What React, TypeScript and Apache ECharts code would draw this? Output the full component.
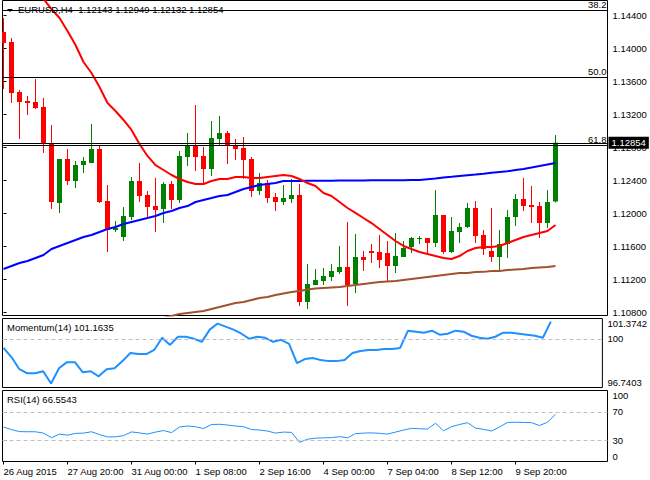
import React, { useEffect, useRef } from 'react';
import * as echarts from 'echarts';

// ---- chart values (EURUSD H4) ----
const symbolName = 'EURUSD,H4';

const openP = [
  1.14198, 1.14076, 1.13470, 1.13361, 1.13349, 1.13288, 1.12852, 1.12125, 1.12658, 1.12392,
  1.12585, 1.12610, 1.12779, 1.12149, 1.11798, 1.11713, 1.11955, 1.12392, 1.12222, 1.12088,
  1.12052, 1.12355, 1.12161, 1.12682, 1.12828, 1.12695, 1.12537, 1.12901, 1.12973, 1.12828,
  1.12792, 1.12658, 1.12270, 1.12367, 1.12198, 1.12137, 1.12173, 1.12222, 1.10925, 1.11131,
  1.11179, 1.11228, 1.11289, 1.11349, 1.11143, 1.11470, 1.11543, 1.11531, 1.11519, 1.11361,
  1.11470, 1.11592, 1.11689, 1.11701, 1.11640, 1.11979, 1.11531, 1.11773, 1.11834, 1.12064,
  1.11737, 1.11543, 1.11470, 1.11628, 1.11955, 1.12173, 1.12101, 1.12088, 1.11882, 1.12143,
];
const closeP = [
  1.14064, 1.13458, 1.13349, 1.13337, 1.13276, 1.12852, 1.12137, 1.12658, 1.12392, 1.12585,
  1.12634, 1.12779, 1.12137, 1.11798, 1.11822, 1.11967, 1.12392, 1.12210, 1.12076, 1.12040,
  1.12355, 1.12161, 1.12695, 1.12828, 1.12682, 1.12537, 1.12913, 1.12973, 1.12828, 1.12779,
  1.12646, 1.12270, 1.12367, 1.12185, 1.12137, 1.12185, 1.12222, 1.10925, 1.11143, 1.11192,
  1.11240, 1.11301, 1.11349, 1.11131, 1.11470, 1.11434, 1.11519, 1.11434, 1.11361, 1.11482,
  1.11579, 1.11701, 1.11701, 1.11640, 1.11979, 1.11531, 1.11785, 1.11834, 1.12064, 1.11725,
  1.11567, 1.11470, 1.11628, 1.11955, 1.12173, 1.12088, 1.12076, 1.11882, 1.12137, 1.12854,
];
const lowP = [
  1.13507, 1.13337, 1.12901, 1.13192, 1.13264, 1.12731, 1.12052, 1.12004, 1.12343, 1.12307,
  1.12488, 1.12610, 1.12125, 1.11531, 1.11773, 1.11664, 1.11919, 1.12137, 1.11943, 1.11773,
  1.11882, 1.12052, 1.12125, 1.12573, 1.12513, 1.12367, 1.12452, 1.12828, 1.12598, 1.12646,
  1.12416, 1.12198, 1.12222, 1.12125, 1.12028, 1.12101, 1.12125, 1.10876, 1.10840, 1.11131,
  1.11131, 1.11179, 1.11264, 1.10876, 1.11034, 1.11301, 1.11398, 1.11337, 1.11179, 1.11276,
  1.11470, 1.11519, 1.11628, 1.11519, 1.11592, 1.11507, 1.11519, 1.11640, 1.11822, 1.11640,
  1.11495, 1.11410, 1.11313, 1.11458, 1.11846, 1.12028, 1.11882, 1.11701, 1.11822, 1.12132,
];
const highP = [
  1.14367, 1.14125, 1.13495, 1.13422, 1.13628, 1.13398, 1.13070, 1.12658, 1.12779, 1.12634,
  1.12682, 1.13082, 1.12816, 1.12343, 1.11907, 1.12076, 1.12440, 1.12610, 1.12270, 1.12428,
  1.12379, 1.12392, 1.12755, 1.12973, 1.13313, 1.12804, 1.13119, 1.13179, 1.12998, 1.12901,
  1.12925, 1.12682, 1.12488, 1.12404, 1.12246, 1.12343, 1.12416, 1.12355, 1.11385, 1.11325,
  1.11337, 1.11385, 1.11604, 1.11895, 1.11749, 1.11543, 1.11628, 1.11737, 1.11664, 1.11761,
  1.11664, 1.11713, 1.11725, 1.11701, 1.12282, 1.11979, 1.11955, 1.11882, 1.12125, 1.12149,
  1.11798, 1.12064, 1.11798, 1.12040, 1.12234, 1.12428, 1.12331, 1.12137, 1.12282, 1.12949,
];

const maRed = [
  1.15313, 1.15167, 1.15022, 1.14876, 1.14731, 1.14598, 1.14476, 1.14367, 1.14210, 1.14040,
  1.13834, 1.13701, 1.13531, 1.13337, 1.13240, 1.13131, 1.13010, 1.12840, 1.12695, 1.12585,
  1.12525, 1.12464, 1.12416, 1.12379, 1.12355, 1.12355, 1.12392, 1.12416, 1.12416, 1.12440,
  1.12440, 1.12428, 1.12428, 1.12440, 1.12452, 1.12464, 1.12452, 1.12416, 1.12367, 1.12331,
  1.12246, 1.12210, 1.12137, 1.12064, 1.12004, 1.11943, 1.11882, 1.11810, 1.11737, 1.11664,
  1.11604, 1.11567, 1.11531, 1.11507, 1.11482, 1.11458, 1.11446, 1.11482, 1.11543, 1.11579,
  1.11592, 1.11592, 1.11604, 1.11640, 1.11676, 1.11713, 1.11737, 1.11761, 1.11785, 1.11858,
];
const maBlue = [
  1.11325, 1.11361, 1.11398, 1.11422, 1.11458, 1.11495, 1.11567, 1.11604, 1.11640, 1.11676,
  1.11713, 1.11737, 1.11773, 1.11810, 1.11834, 1.11870, 1.11895, 1.11919, 1.11943, 1.11967,
  1.12004, 1.12028, 1.12064, 1.12088, 1.12137, 1.12161, 1.12185, 1.12210, 1.12222, 1.12258,
  1.12295, 1.12319, 1.12343, 1.12355, 1.12367, 1.12392, 1.12392, 1.12393, 1.12394, 1.12395,
  1.12396, 1.12396, 1.12397, 1.12398, 1.12398, 1.12399, 1.12400, 1.12400, 1.12401, 1.12402,
  1.12402, 1.12403, 1.12404, 1.12414, 1.12422, 1.12433, 1.12442, 1.12452, 1.12461, 1.12470,
  1.12480, 1.12491, 1.12501, 1.12510, 1.12525, 1.12538, 1.12555, 1.12573, 1.12592, 1.12610,
];
const maBrown = [
  null, null, null, null, null, null, null, null, null, null,
  null, null, null, null, null, null, null, null, 1.10682, 1.10707,
  1.10731, 1.10755, 1.10779, 1.10792, 1.10804, 1.10816, 1.10840, 1.10864, 1.10889, 1.10913,
  1.10925, 1.10949, 1.10973, 1.10985, 1.11010, 1.11028, 1.11046, 1.11058, 1.11076, 1.11089,
  1.11095, 1.11101, 1.11107, 1.11119, 1.11131, 1.11143, 1.11155, 1.11167, 1.11173, 1.11179,
  1.11192, 1.11204, 1.11216, 1.11228, 1.11240, 1.11252, 1.11264, 1.11276, 1.11277, 1.11289,
  1.11290, 1.11301, 1.11302, 1.11313, 1.11319, 1.11325, 1.11337, 1.11343, 1.11349, 1.11361,
];

const momentum = [
  99.398, 98.785, 97.967, 97.694, 97.694, 97.830, 97.013, 98.035, 98.444, 98.444,
  97.762, 97.830, 97.490, 97.967, 98.035, 98.512, 99.057, 98.989, 98.989, 99.262,
  100.079, 99.602, 100.148, 100.148, 100.011, 99.807, 100.625, 101.033, 100.829, 100.625,
  100.352, 100.011, 100.148, 100.079, 99.807, 99.943, 99.671, 98.376, 98.648, 98.716,
  98.580, 98.512, 98.512, 98.580, 99.057, 99.193, 99.262, 99.262, 99.330, 99.330,
  99.398, 100.556, 100.488, 100.420, 100.556, 100.284, 100.352, 100.556, 100.488, 100.216,
  100.079, 100.011, 100.148, 100.420, 100.420, 100.352, 100.284, 100.216, 100.079, 101.1635,
];
const rsi = [
  48.6, 45.0, 42.1, 41.9, 41.9, 40.0, 33.6, 38.6, 37.1, 39.6,
  40.0, 41.9, 37.9, 34.7, 34.7, 36.4, 41.7, 40.3, 38.6, 41.4,
  43.6, 40.7, 48.6, 50.0, 49.0, 46.4, 52.1, 52.4, 51.4, 50.0,
  49.0, 45.0, 44.3, 42.9, 40.0, 41.4, 41.0, 27.1, 31.4, 32.9,
  33.3, 33.6, 35.0, 33.3, 39.3, 40.0, 40.3, 39.7, 38.6, 41.4,
  44.3, 46.7, 46.1, 45.7, 53.9, 43.3, 49.0, 52.1, 54.7, 47.1,
  45.3, 42.9, 48.6, 55.0, 55.3, 55.0, 54.7, 50.7, 55.3, 66.5543,
];

const priceTicks = [1.108, 1.112, 1.116, 1.12, 1.124, 1.128, 1.132, 1.136, 1.14, 1.144];
const momTicks = [96.7403, 100, 101.3742];
const rsiTicks = [0, 30, 70, 100];
const rsiLevels = [30, 70];
const momLevel = 100;
const fibNames = ['38.2', '50.0', '61.8'];
const fibPrices = [1.14463, 1.1365, 1.1282];
const timeLabels = [
  '26 Aug 2015', '27 Aug 20:00', '31 Aug 00:00', '1 Sep 08:00', '2 Sep 16:00',
  '4 Sep 00:00', '7 Sep 04:00', '8 Sep 12:00', '9 Sep 20:00',
];
const timeLabelBars = [0, 8, 16, 24, 32, 40, 48, 56, 64];

export default function App() {
  const ref = useRef<HTMLDivElement>(null);

  useEffect(() => {
    if (!ref.current) return;
    const chart = echarts.init(ref.current, null, { renderer: 'svg' });
    const font = '"Liberation Sans", Arial, sans-serif';
    const fs = 9.5;
    const n = openP.length;
    const last = n - 1;

    const candles = openP.map((o, i) => [i, o, closeP[i], lowP[i], highP[i]]);
    const toXY = (arr: (number | null)[]) =>
      arr.map((v, i) => [i, v]).filter((p) => p[1] !== null);

    const xMin = -0.125;
    const xMax = 75.5;
    // main price scale (panel spans y 0.5 .. 315.5)
    const mainMin = 1.107612;
    const mainMax = 1.145794;

    const baseX = (gridIndex: number) => ({
      type: 'value',
      gridIndex,
      min: xMin,
      max: xMax,
      axisLine: { show: false },
      axisTick: { show: false },
      axisLabel: { show: false },
      splitLine: { show: false },
    });

    const labelStyle = { color: '#000', fontSize: fs, fontFamily: font };

    const lastCandleText = `${symbolName}  ${openP[last].toFixed(5)} ${highP[last].toFixed(5)} ${lowP[last].toFixed(5)} ${closeP[last].toFixed(5)}`;

    const option: any = {
      animation: false,
      backgroundColor: '#fff',
      title: [
        {
          text: lastCandleText,
          left: 18,
          top: 4,
          padding: 0,
          textStyle: { ...labelStyle, fontWeight: 'normal' },
        },
        {
          text: `Momentum(14) ${momentum[last].toFixed(4)}`,
          left: 7,
          top: 322,
          padding: 0,
          textStyle: { ...labelStyle, fontWeight: 'normal' },
        },
        {
          text: `RSI(14) ${rsi[last].toFixed(4)}`,
          left: 7,
          top: 394,
          padding: 0,
          textStyle: { ...labelStyle, fontWeight: 'normal' },
        },
      ],
      graphic: [
        {
          type: 'polygon',
          shape: { points: [[7, 9], [13, 9], [10, 12]] },
          style: { fill: '#000' },
          z: 100,
        },
      ],
      grid: [
        { left: 2.5, top: 0.5, width: 605, height: 315, show: true, borderColor: '#000', borderWidth: 1 },
        { left: 2.5, top: 318.5, width: 605, height: 69, show: true, borderColor: '#000', borderWidth: 1 },
        { left: 2.5, top: 390.5, width: 605, height: 71, show: true, borderColor: '#000', borderWidth: 1 },
      ],
      xAxis: [
        baseX(0),
        baseX(1),
        {
          ...baseX(2),
          axisTick: {
            show: true,
            customValues: timeLabelBars,
            length: 3,
            lineStyle: { color: '#000', width: 1 },
          },
          axisLabel: {
            show: true,
            customValues: timeLabelBars,
            align: 'left',
            margin: 5,
            ...labelStyle,
            formatter: (v: number) => {
              const k = timeLabelBars.indexOf(Math.round(v));
              return k >= 0 ? timeLabels[k] : '';
            },
          },
        },
      ],
      yAxis: [
        {
          type: 'value',
          gridIndex: 0,
          position: 'right',
          min: mainMin,
          max: mainMax,
          axisLine: { show: false },
          splitLine: { show: false },
          axisTick: { show: true, customValues: priceTicks, length: 3, lineStyle: { color: '#000' } },
          axisLabel: {
            customValues: priceTicks,
            margin: 5,
            ...labelStyle,
            formatter: (v: number) => v.toFixed(5),
          },
        },
        {
          type: 'value',
          gridIndex: 1,
          position: 'right',
          min: momTicks[0],
          max: momTicks[2],
          axisLine: { show: false },
          splitLine: { show: false },
          axisTick: { show: true, customValues: momTicks, length: 3, lineStyle: { color: '#000' } },
          axisLabel: {
            customValues: momTicks,
            margin: 5,
            ...labelStyle,
            verticalAlignMinLabel: 'bottom',
            verticalAlignMaxLabel: 'top',
            formatter: (v: number) => (Math.abs(v - 100) < 1e-9 ? '100' : v.toFixed(4)),
          },
        },
        {
          type: 'value',
          gridIndex: 2,
          position: 'right',
          min: 0,
          max: 100,
          axisLine: { show: false },
          splitLine: { show: false },
          axisTick: { show: true, customValues: rsiTicks, length: 3, lineStyle: { color: '#000' } },
          axisLabel: {
            customValues: rsiTicks,
            margin: 5,
            ...labelStyle,
            verticalAlignMinLabel: 'bottom',
            verticalAlignMaxLabel: 'top',
            formatter: (v: number) => String(Math.round(v)),
          },
        },
      ],
      series: [
        {
          type: 'custom',
          name: 'candles',
          xAxisIndex: 0,
          yAxisIndex: 0,
          clip: true,
          z: 2,
          encode: { x: 0, y: [1, 2, 3, 4] },
          data: candles,
          renderItem: (params: any, api: any) => {
            const x = api.value(0);
            const o = api.value(1);
            const c = api.value(2);
            const l = api.value(3);
            const h = api.value(4);
            const pO = api.coord([x, o]);
            const pC = api.coord([x, c]);
            const pL = api.coord([x, l]);
            const pH = api.coord([x, h]);
            const color = c >= o ? '#008000' : '#ff0000';
            const w = 5;
            const top = Math.min(pO[1], pC[1]);
            const bh = Math.max(Math.abs(pO[1] - pC[1]), 1);
            return {
              type: 'group',
              children: [
                {
                  type: 'line',
                  shape: { x1: pH[0], y1: pH[1], x2: pL[0], y2: pL[1] },
                  style: { stroke: color, lineWidth: 1 },
                },
                {
                  type: 'rect',
                  shape: { x: pO[0] - w / 2, y: top, width: w, height: bh },
                  style: { fill: color },
                },
              ],
            };
          },
        },
        {
          type: 'line',
          name: 'MA brown',
          xAxisIndex: 0,
          yAxisIndex: 0,
          data: toXY(maBrown),
          symbol: 'none',
          z: 3,
          lineStyle: { color: '#a0522d', width: 2 },
          itemStyle: { color: '#a0522d' },
        },
        {
          type: 'line',
          name: 'MA blue',
          xAxisIndex: 0,
          yAxisIndex: 0,
          data: toXY(maBlue),
          symbol: 'none',
          z: 3,
          lineStyle: { color: '#0000ff', width: 2 },
          itemStyle: { color: '#0000ff' },
        },
        {
          type: 'line',
          name: 'MA red',
          xAxisIndex: 0,
          yAxisIndex: 0,
          data: toXY(maRed),
          symbol: 'none',
          z: 3,
          lineStyle: { color: '#ff0000', width: 2 },
          itemStyle: { color: '#ff0000' },
          markLine: {
            silent: true,
            precision: 5,
            symbol: ['none', 'none'],
            lineStyle: { color: '#000', width: 1, type: 'solid' },
            data: [
              ...fibPrices.map((p, i) => ({
                yAxis: p,
                label: {
                  show: true,
                  position: 'insideEndTop',
                  distance: 1,
                  formatter: fibNames[i],
                  ...labelStyle,
                },
              })),
              {
                yAxis: closeP[last],
                label: {
                  show: true,
                  position: 'end',
                  distance: 1,
                  formatter: closeP[last].toFixed(5),
                  backgroundColor: '#000',
                  color: '#fff',
                  padding: [1, 3, 1, 3],
                  fontSize: fs,
                  fontFamily: font,
                },
              },
            ],
          },
        },
        {
          type: 'line',
          name: 'Momentum',
          xAxisIndex: 1,
          yAxisIndex: 1,
          data: toXY(momentum),
          symbol: 'none',
          lineStyle: { color: '#1e90ff', width: 2 },
          itemStyle: { color: '#1e90ff' },
          markLine: {
            silent: true,
            symbol: ['none', 'none'],
            label: { show: false },
            lineStyle: { color: '#c0c0c0', width: 1, type: [4, 3] },
            data: [{ yAxis: momLevel }],
          },
        },
        {
          type: 'line',
          name: 'RSI',
          xAxisIndex: 2,
          yAxisIndex: 2,
          data: toXY(rsi),
          symbol: 'none',
          lineStyle: { color: '#1e90ff', width: 1 },
          itemStyle: { color: '#1e90ff' },
          markLine: {
            silent: true,
            symbol: ['none', 'none'],
            label: { show: false },
            lineStyle: { color: '#c0c0c0', width: 1, type: [4, 3] },
            data: rsiLevels.map((v) => ({ yAxis: v })),
          },
        },
      ],
    };

    chart.setOption(option);
    return () => chart.dispose();
  }, []);

  return (
    <div
      ref={ref}
      style={{ position: 'fixed', left: 0, top: 0, width: 650, height: 480, background: '#fff' }}
    />
  );
}
